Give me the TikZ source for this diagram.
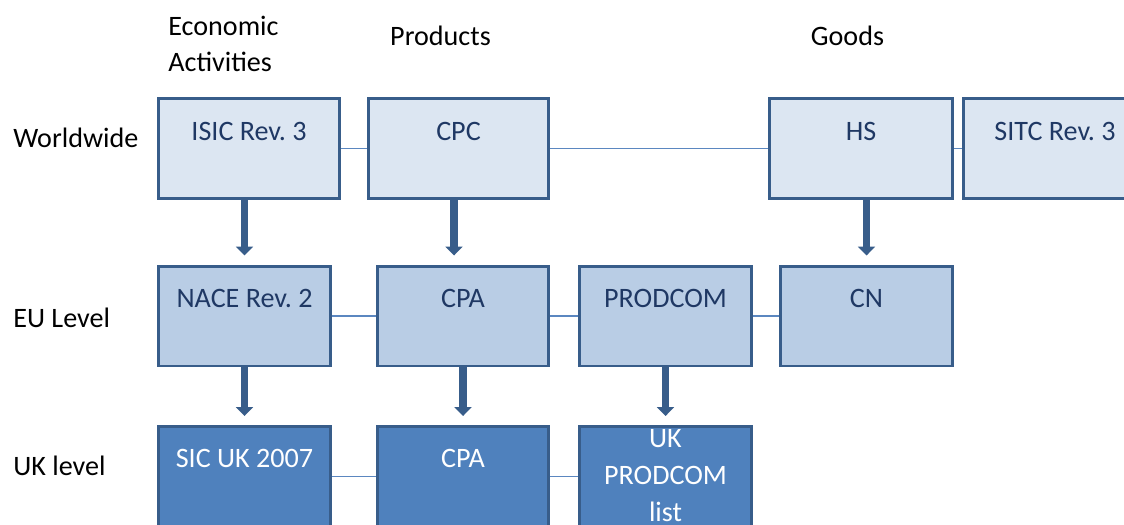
\documentclass[tikz,border=0pt]{standalone}
\usepackage{fontspec}
\setmainfont{Carlito}
\usetikzlibrary{arrows.meta,positioning}

\definecolor{worldfill}{HTML}{DCE6F2}
\definecolor{eufill}{HTML}{B9CDE5}
\definecolor{ukfill}{HTML}{4F81BD}
\definecolor{boxline}{HTML}{385D8A}
\definecolor{linkline}{HTML}{5B87C0}
\definecolor{boxtext}{HTML}{1F3864}

\begin{document}
\begin{tikzpicture}[
  x=0.02cm, y=-0.02cm,
  every node/.style={font=\fontsize{16}{21}\selectfont, inner sep=0pt},
  box/.style={draw=boxline, line width=1.7pt, text=boxtext,
    minimum height=2.0cm, text height=0.83cm, text depth=1.17cm},
  world/.style={box, fill=worldfill},
  eu/.style={box, fill=eufill},
  uk/.style={box, fill=ukfill, text=white, text height=0.81cm, text depth=1.19cm},
  link/.style={draw=linkline, line width=0.75pt},
  down/.style={draw=boxline, line width=4pt, shorten >=0.18cm,
    -{Triangle[width=9.6pt,length=5pt]}},
  rowlabel/.style={anchor=base west}
]
\useasboundingbox (0,0) rectangle (1124,524);

% column heads
\node[anchor=base west] (headecon) at (168,35)
  {\begin{tabular}[t]{@{}l@{}}Economic\\Activities\end{tabular}};
\node[anchor=base] (headprod) at (440.5,45) {Products};
\node[anchor=base] (headgoods) at (847.5,45) {Goods};

% row labels
\node[rowlabel] (rowworld) at (13,147) {Worldwide};
\node[rowlabel] (roweu) at (13,327) {EU Level};
\node[rowlabel] (rowuk) at (13,475) {UK level};

% worldwide
\node[world, minimum width=3.62cm] (isic) at (249,148.5) {ISIC Rev.~3};
\node[world, minimum width=3.6cm] (cpc) at (458.5,148.5) {CPC};
\node[world, minimum width=3.66cm] (hs) at (861,148.5) {HS};
\node[world, minimum width=3.66cm] (sitc) at (1055,148.5) {SITC Rev.~3};

% EU level
\node[eu, minimum width=3.44cm] (nace) at (244.5,316) {NACE Rev.~2};
\node[eu, minimum width=3.42cm] (cpa) at (463,316) {CPA};
\node[eu, minimum width=3.44cm] (prodcom) at (665.5,316) {PRODCOM};
\node[eu, minimum width=3.44cm] (cn) at (866.5,316) {CN};

% UK level
\node[uk, minimum width=3.44cm] (sicuk) at (244.5,476.5) {SIC UK 2007};
\node[uk, minimum width=3.42cm] (cpauk) at (463,476.5) {CPA};
\node[uk, minimum width=3.44cm, text height=0.42cm, text depth=1.58cm] (produk) at (665.5,476.5)
  {\begin{tabular}[t]{@{}c@{}}UK\\PRODCOM\\list\end{tabular}};

% links
\draw[link] (isic) -- (cpc);
\draw[link] (cpc) -- (hs);
\draw[link] (hs) -- (sitc);
\draw[link] (nace) -- (cpa);
\draw[link] (cpa) -- (prodcom);
\draw[link] (prodcom) -- (cn);
\draw[link] (sicuk) -- (cpauk);
\draw[link] (cpauk) -- (produk);

% arrows
\draw[down] (isic.south -| nace.north) -- (nace.north);
\draw[down] ([xshift=-0.09cm]cpc.south) -- ([xshift=-0.09cm]cpc.south |- cpa.north);
\draw[down] (hs.south -| cn.north) -- (cn.north);
\draw[down] (nace.south) -- (sicuk.north);
\draw[down] (cpa.south) -- (cpauk.north);
\draw[down] (prodcom.south) -- (produk.north);

\end{tikzpicture}
\end{document}
